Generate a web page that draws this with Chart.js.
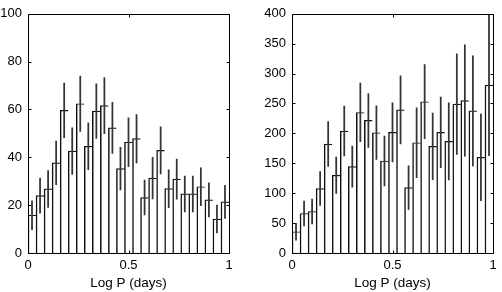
<!DOCTYPE html>
<html>
<head>
<meta charset="utf-8">
<script src="https://cdn.jsdelivr.net/npm/chart.js@4"></script>
<style>
  body { margin: 0; background: #fff; }
  #wrap { position: relative; width: 502px; height: 292px; }
  canvas { position: absolute; top: 0; }
</style>
</head>
<body>
<div id="wrap">
  <canvas id="chart1" width="251" height="292" style="left:0"></canvas>
  <canvas id="chart2" width="251" height="292" style="left:251px"></canvas>
</div>
<script>
// bin centres of the Log P histogram (bin width 0.04)
const binCenters = [0.02, 0.06, 0.10, 0.14, 0.18, 0.22, 0.26, 0.30, 0.34, 0.38,
                    0.42, 0.46, 0.50, 0.54, 0.58, 0.62, 0.66, 0.70, 0.74, 0.78,
                    0.82, 0.86, 0.90, 0.94, 0.98];

// left panel
const leftCounts = [15.8, 24, 26.8, 37.7, 59.6, 42.6, 62.4, 44.6, 59.3, 61.6,
                    52.3, 35.3, 46.3, 47.8, 23.2, 31.3, 42.9, 26.9, 30.9, 24.7,
                    24.7, 27.7, 22.2, 14.2, 21.4];
const leftErrors = [6, 7.3, 7.7, 9.1, 11.4, 9.7, 11.6, 9.8, 11.4, 11.7,
                    10.7, 8.9, 10.2, 10.1, 7.3, 8.7, 9.8, 7.9, 8.4, 7.5,
                    7.5, 7.9, 7.1, 5.8, 6.9];

// right panel
const rightCounts = [35.6, 66.1, 69.4, 107.8, 182.2, 130, 203.9, 144.4, 235, 221.7,
                     201.1, 153.9, 201.7, 239.4, 109.4, 184.4, 253, 178.3, 201.7, 186.7,
                     248.9, 255, 237.8, 160, 280.6];
const rightErrors = [14.2, 20.8, 20.8, 28.3, 37.5, 30.5, 41.7, 34.4, 49, 45,
                     44.8, 41.7, 49.3, 57, 36.4, 58.4, 62, 55.5, 59.2, 64.6,
                     84, 93, 92, 72.5, 118];

const xTicks = [0, 0.5, 1];
const leftYTicks = [0, 20, 40, 60, 80, 100];
const rightYTicks = [0, 50, 100, 150, 200, 250, 300, 350, 400];

Chart.defaults.font.family = "'Liberation Sans', Arial, sans-serif";
Chart.defaults.font.size = 13;
Chart.defaults.color = '#000';

// matlab style box with inward ticks
const boxPlugin = {
    id: 'box',
    afterDatasetsDraw(chart) {
        const ctx = chart.ctx;
        const a = chart.chartArea;
        const xs = chart.scales.x, ys = chart.scales.y;
        const L = Math.round(a.left) + 0.5, R = Math.round(a.right) + 0.5;
        const T = Math.round(a.top) + 0.5, B = Math.round(a.bottom) + 0.5;
        ctx.save();
        ctx.strokeStyle = '#000';
        ctx.lineWidth = 1;
        ctx.beginPath();
        ctx.rect(L, T, R - L, B - T);
        xs.ticks.forEach(t => {
            const p = Math.round(xs.getPixelForValue(t.value)) + 0.5;
            ctx.moveTo(p, B); ctx.lineTo(p, B - 3);
            ctx.moveTo(p, T); ctx.lineTo(p, T + 3);
        });
        ys.ticks.forEach(t => {
            const p = Math.round(ys.getPixelForValue(t.value)) + 0.5;
            ctx.moveTo(L, p); ctx.lineTo(L + 3, p);
            ctx.moveTo(R, p); ctx.lineTo(R - 3, p);
        });
        ctx.stroke();
        ctx.restore();
    }
};

function makeHist(id, counts, errors, yMax, yTicks, yWidth, padRight) {
    return new Chart(document.getElementById(id), {
        type: 'bar',
        data: {
            datasets: [{
                // error bars
                data: binCenters.map((x, i) => ({x: x, y: [counts[i] - errors[i], counts[i] + errors[i]]})),
                backgroundColor: '#333',
                borderWidth: 0,
                barThickness: 1.1,
                grouped: false,
                order: 0
            }, {
                data: binCenters.map((x, i) => ({x: x, y: counts[i]})),
                backgroundColor: '#fff',
                borderColor: '#111',
                borderWidth: {top: 1.2, left: 1.5, right: 0, bottom: 0},
                borderSkipped: false,
                barPercentage: 1,
                categoryPercentage: 1,
                grouped: false,
                order: 1
            }]
        },
        options: {
            responsive: false,
            animation: false,
            events: [],
            layout: {padding: {top: 13, right: padRight, left: 0, bottom: 0}},
            scales: {
                x: {
                    type: 'linear', min: 0, max: 1, offset: false,
                    grid: {display: false, drawTicks: false},
                    border: {display: false},
                    afterBuildTicks: s => { s.ticks = xTicks.map(v => ({value: v})); },
                    afterFit: s => { s.height = 39; },
                    ticks: {padding: 5, maxRotation: 0, callback: v => String(v)},
                    title: {display: true, text: 'Log P (days)', font: {size: 13.5}, padding: {top: 0, bottom: 1}}
                },
                y: {
                    min: 0, max: yMax,
                    grid: {display: false, drawTicks: false},
                    border: {display: false},
                    afterBuildTicks: s => { s.ticks = yTicks.map(v => ({value: v})); },
                    afterFit: s => { s.width = yWidth; },
                    ticks: {padding: 6, callback: v => String(v)}
                }
            },
            plugins: {legend: {display: false}, tooltip: {enabled: false}}
        },
        plugins: [boxPlugin]
    });
}

makeHist('chart1', leftCounts, leftErrors, 100, leftYTicks, 28, 22);
makeHist('chart2', rightCounts, rightErrors, 400, rightYTicks, 41, 9);
</script>
</body>
</html>
